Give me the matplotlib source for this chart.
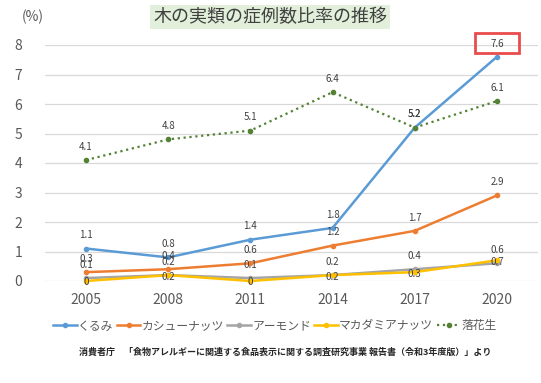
import matplotlib.pyplot as plt
from matplotlib.patches import Rectangle

plt.rcParams['font.family'] = ['Noto Sans CJK JP', 'DejaVu Sans']

years = ['2005', '2008', '2011', '2014', '2017', '2020']
names = ['くるみ', 'カシューナッツ', 'アーモンド', 'マカダミアナッツ', '落花生']
kurumi = [1.1, 0.8, 1.4, 1.8, 5.2, 7.6]
cashew = [0.3, 0.4, 0.6, 1.2, 1.7, 2.9]
almond = [0.1, 0.2, 0.1, 0.2, 0.4, 0.6]
macadamia = [0, 0.2, 0, 0.2, 0.3, 0.7]
peanut = [4.1, 4.8, 5.1, 6.4, 5.2, 6.1]
yticks = [0, 1, 2, 3, 4, 5, 6, 7, 8]

series = [kurumi, cashew, almond, macadamia, peanut]
colors = ['#5B9BD5', '#ED7D31', '#A5A5A5', '#FFC000', '#548235']
styles = ['-', '-', '-', '-', ':']
# label offsets in data units (macadamia labels sit on the point)
offs = [0.45, 0.45, 0.45, -0.05, 0.45]

fig = plt.figure(figsize=(5.41, 3.83), dpi=100)
ax = fig.add_axes([45 / 541, 1 - 281 / 383, 493 / 541, 236 / 383])
x = list(range(len(years)))

for vals, c, ls, name, off in zip(series, colors, styles, names, offs):
    ax.plot(x, vals, color=c, ls=ls, lw=1.8 if ls == '-' else 1.6,
            marker='o', ms=3, label=name, clip_on=False, zorder=3)
    for xi, v in zip(x, vals):
        ax.text(xi, v + off, f'{v:g}', ha='center', va='center', fontsize=7,
                color='#404040', zorder=4)

# red box around the last walnut value
ax.add_patch(Rectangle((5 - 0.27, 7.72), 0.54, 0.68,
                       fill=False, ec='#E84C4C', lw=2, clip_on=False, zorder=5))

ax.set_xlim(-0.5, 5.5)
ax.set_ylim(0, 8)
ax.set_yticks(yticks)
ax.set_xticks(x)
ax.set_xticklabels(years)
ax.tick_params(length=0, labelsize=10, colors='#595959')
ax.tick_params(axis='y', pad=22)
ax.tick_params(axis='x', pad=9)
for lbl in ax.get_yticklabels():
    lbl.set_horizontalalignment('left')
ax.grid(axis='y', color='#D9D9D9', lw=0.9)
ax.set_axisbelow(True)
for s in ax.spines.values():
    s.set_visible(False)

fig.text(22 / 541, 1 - 17 / 383, '(%)', fontsize=10, color='#595959',
         ha='left', va='center')
fig.text(270 / 541, 1 - 17 / 383, '木の実類の症例数比率の推移', fontsize=13,
         color='#404040', ha='center', va='center',
         bbox=dict(facecolor='#E2EFDA', edgecolor='none', pad=2))

fig.legend(loc='center', bbox_to_anchor=(275 / 541, 1 - 326 / 383), ncol=5,
           frameon=False, fontsize=8.5, handlelength=2.0, handletextpad=0.1,
           columnspacing=0.3, labelcolor='#595959')

fig.text(285 / 541, 1 - 352 / 383,
         '消費者庁　「食物アレルギーに関連する食品表示に関する調査研究事業 報告書（令和3年度版）」より',
         fontsize=6.5, fontweight='bold', color='#262626', ha='center', va='center')

fig.savefig('out.png', dpi=100)
